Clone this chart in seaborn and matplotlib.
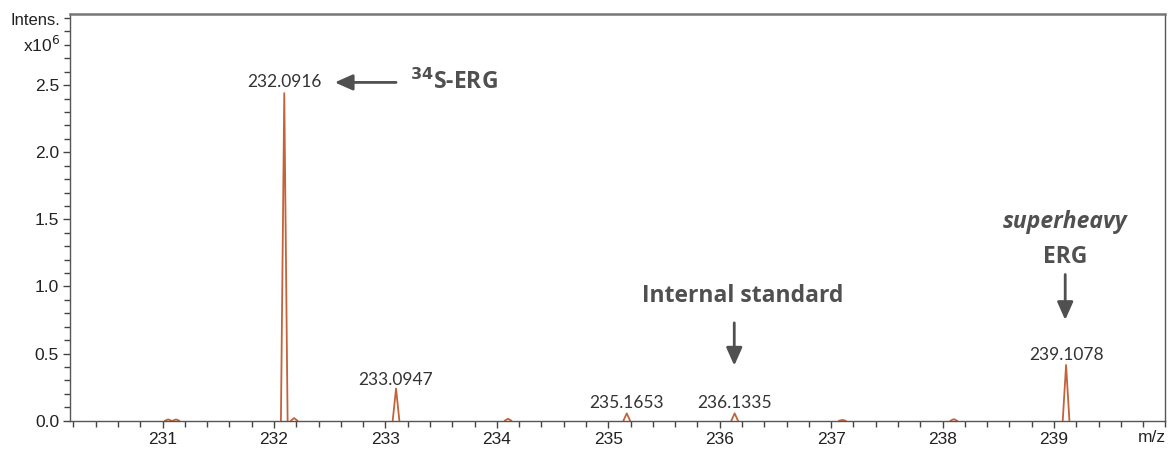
import matplotlib
matplotlib.use("Agg")
import matplotlib.pyplot as plt
import seaborn as sns
import pandas as pd
import numpy as np

# peak list (m/z, intensity x10^6)
peak_mz = [231.05, 231.12, 232.0916, 232.18, 233.0947, 234.10, 235.1653,
           236.1335, 237.10, 238.10, 239.1078]
peak_int = [0.010, 0.010, 2.44, 0.020, 0.24, 0.015, 0.055, 0.055, 0.006, 0.012, 0.415]
peak_halfwidth = 0.03

labelled_mz = [232.0916, 233.0947, 235.1653, 236.1335, 239.1078]
labelled_int = [2.44, 0.24, 0.055, 0.055, 0.415]
labels = ["232.0916", "233.0947", "235.1653", "236.1335", "239.1078"]

xticks = [231, 232, 233, 234, 235, 236, 237, 238, 239]
yticks = [0.0, 0.5, 1.0, 1.5, 2.0, 2.5]

sns.set_theme(style="ticks")
plt.rcParams["font.family"] = ["Liberation Sans", "DejaVu Sans"]

# each centroid peak drawn as a narrow profile (base - apex - base)
rows = []
for i, (c, h) in enumerate(zip(peak_mz, peak_int)):
    rows.append((i, c - peak_halfwidth, 0.0))
    rows.append((i, c, h))
    rows.append((i, c + peak_halfwidth, 0.0))
df = pd.DataFrame(rows, columns=["peak", "mz", "intens"])

fig = plt.figure(figsize=(11.69, 4.5), dpi=100)
ax = fig.add_axes([0.060, 0.065, 0.937, 0.904])

sns.lineplot(data=df, x="mz", y="intens", units="peak", estimator=None,
             color="#c4623a", linewidth=1.3, ax=ax, legend=False)

ax.set_xlim(230.17, 239.99)
ax.set_ylim(0, 3.03)
ax.set_xticks(xticks)
ax.set_yticks(yticks)
ax.set_yticklabels([f"{v:.1f}" for v in yticks])
ax.set_xticks(np.arange(230.2, 240.0, 0.2), minor=True)
ax.set_yticks(np.arange(0, 3.03, 0.1), minor=True)
ax.set_xlabel("")
ax.set_ylabel("")

for s in ax.spines.values():
    s.set_color("#555555")
    s.set_linewidth(1.0)
ax.spines["top"].set_linewidth(1.8)
ax.spines["top"].set_color("#777777")
ax.tick_params(which="major", direction="out", length=5, width=1, color="#444444",
               labelsize=12.5, labelcolor="#222222", pad=3)
ax.tick_params(which="minor", direction="out", length=4, width=1, color="#444444")

ax.text(-0.009, 0.985, "Intens.", transform=ax.transAxes, ha="right", va="center",
        fontsize=12, color="#222222")
ax.text(-0.009, 0.925, r"x10$^{6}$", transform=ax.transAxes, ha="right",
        va="center", fontsize=12.5, color="#222222")
ax.text(1.0, -0.022, "m/z", transform=ax.transAxes, ha="right", va="top",
        fontsize=12.5, color="#222222")

# peak labels
offsets = [0.08, 0.06, 0.075, 0.075, 0.075]
for x, y, t, d in zip(labelled_mz, labelled_int, labels, offsets):
    ax.text(x, y + d, t, ha="center", va="center", fontsize=12.5,
            family=["Lato", "DejaVu Sans"], color="#333333")

grey = "#505050"
afont = ["Open Sans", "DejaVu Sans"]
arrow = dict(arrowstyle="-|>,head_length=0.9,head_width=0.4", color=grey, lw=2)

ax.annotate("", xy=(232.52, 2.52), xytext=(233.12, 2.52), arrowprops=arrow)
ax.text(233.22, 2.52, r"$^{\mathbf{34}}$S-ERG", ha="left", va="center", fontsize=16.5,
        fontweight="bold", family=afont, color=grey)

ax.text(236.21, 0.93, "Internal standard", ha="center", va="center", fontsize=16.5,
        fontweight="bold", family=afont, color=grey)
ax.annotate("", xy=(236.13, 0.39), xytext=(236.13, 0.75), arrowprops=arrow)

ax.text(239.1, 1.48, "superheavy", ha="center", va="center", fontsize=16.5,
        fontweight="bold", style="italic", family=afont, color=grey)
ax.text(239.1, 1.22, "ERG", ha="center", va="center", fontsize=16.5,
        fontweight="bold", family=afont, color=grey)
ax.annotate("", xy=(239.1, 0.73), xytext=(239.1, 1.11), arrowprops=arrow)

fig.savefig("out.png", dpi=100)
